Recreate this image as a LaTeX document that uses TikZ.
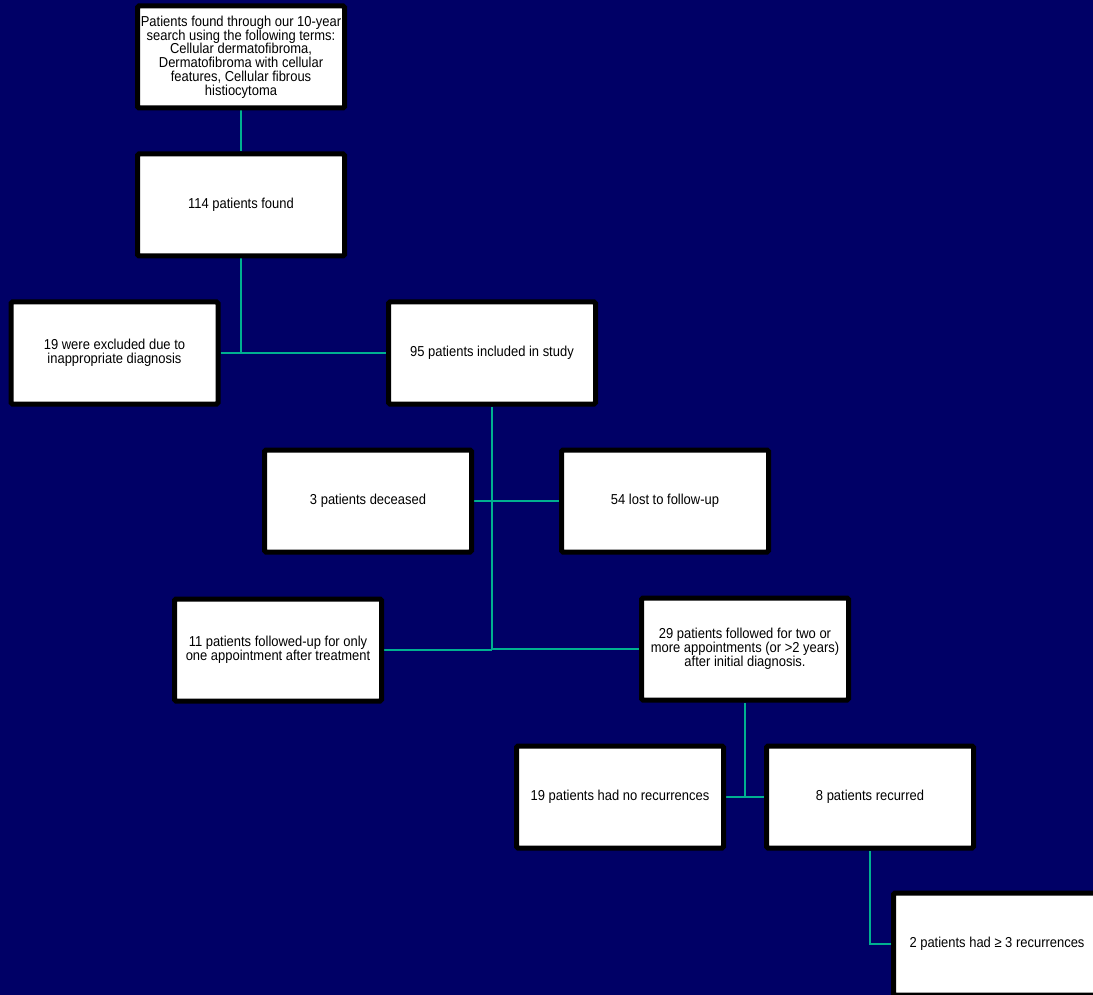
\documentclass[tikz,border=0pt]{standalone}
\usepackage{fontspec}
\setmainfont{Liberation Sans}[FakeStretch=0.9]
\definecolor{bgnavy}{RGB}{0,0,102}
\definecolor{conn}{RGB}{0,176,144}
\pgfdeclarelayer{bglayer}
\pgfdeclarelayer{lines}
\pgfsetlayers{bglayer,lines,main}
\begin{document}
\begin{tikzpicture}[x=1pt,y=-1pt,
  box/.style={draw=black, line width=5pt, fill=white, rounded corners=1.5pt,
    minimum width=207pt, minimum height=102pt, inner sep=0pt, align=center,
    font=\fontsize{14.4}{13.8}\selectfont},
  link/.style={draw=conn, line width=1.8pt}]
\useasboundingbox (0,0) rectangle (1093,995);
\clip (0,0) rectangle (1093,995);
\begin{pgfonlayer}{bglayer}
\fill[bgnavy] (0,0) rectangle (1093,995);
\end{pgfonlayer}
\node[box] (b1) at (241,57) {Patients found through our 10-year\\search using the following terms:\\Cellular dermatofibroma,\\Dermatofibroma with cellular\\features, Cellular fibrous\\histiocytoma};
\node[box] (b2) at (241,205) {114 patients found};
\node[box] (b3) at (114.5,353) {19 were excluded due to\\inappropriate diagnosis};
\node[box] (b4) at (492,353) {95 patients included in study};
\node[box] (b5) at (368,501) {3 patients deceased};
\node[box] (b6) at (665,501) {54 lost to follow-up};
\node[box] (b7) at (278,650) {11 patients followed-up for only\\one appointment after treatment};
\node[box] (b8) at (745,649) {29 patients followed for two or\\more appointments (or >2 years)\\after initial diagnosis.};
\node[box] (b9) at (620,797) {19 patients had no recurrences};
\node[box] (b10) at (870,797) {8 patients recurred};
\node[box] (b11) at (997,944) {2 patients had ≥ 3 recurrences};
\begin{pgfonlayer}{lines}
\draw[link] (b1.south) -- (b2.north);
\draw[link] (b2.south) -- (b2.south |- b3.east);
\draw[link] (b3.east) -- (b4.west);
\draw[link] (b4.south) -- ([yshift=1pt]b4.south |- b7.east);
\draw[link] (b5.east) -- (b6.west);
\draw[link] (b7.east) -- (b4.south |- b7.east);
\draw[link] (b4.south |- b8.west) -- (b8.west);
\draw[link] (b8.south) -- (b8.south |- b9.east);
\draw[link] (b9.east) -- (b10.west);
\draw[link] (b10.south) -- (b10.south |- b11.west) -- (b11.west);
\end{pgfonlayer}
\end{tikzpicture}
\end{document}
